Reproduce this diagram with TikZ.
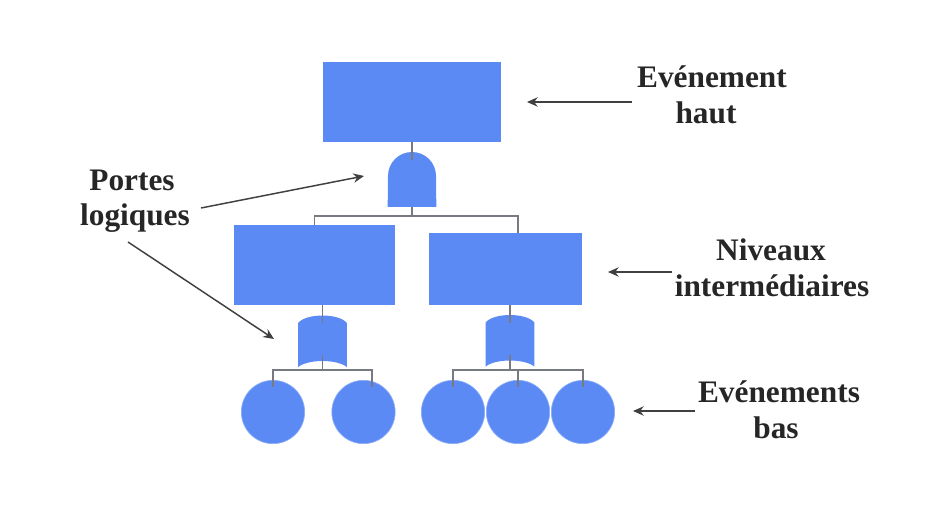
\documentclass[tikz,border=0pt]{standalone}
\usepackage{fontspec}
\setmainfont{Liberation Serif}
\usetikzlibrary{arrows.meta,calc}
\definecolor{blk}{HTML}{5B8AF5}
\definecolor{wire}{HTML}{777A80}
\tikzset{
  boxnode/.style={fill=blk,inner sep=0pt,outer sep=0pt},
  roundnode/.style={circle,fill=blk,draw=blk!70!white,line width=0.5pt,inner sep=0pt,outer sep=0pt,minimum size=47.5pt},
  gatenode/.style={inner sep=0pt,outer sep=0pt,minimum width=36.5pt,minimum height=39pt},
  wireline/.style={draw=wire,line width=1.1pt},
  pointer/.style={draw=black!75,line width=1.1pt,-{Stealth[length=8pt,width=7pt]}},
  lbl/.style={font=\bfseries\fontsize{23.5}{28}\selectfont,text=black!85,inner sep=0pt}
}
\begin{document}
\begin{tikzpicture}[x=0.75pt,y=-0.75pt]
\useasboundingbox (0,0) rectangle (946,506);
% boxes
\node[boxnode,minimum width=133.5pt,minimum height=60pt] (top) at (412,102) {};
\node[boxnode,minimum width=120.75pt,minimum height=60pt] (midL) at (314.5,265) {};
\node[boxnode,minimum width=114.75pt,minimum height=54pt] (midR) at (505.5,269) {};
% gates
\node[gatenode,minimum height=41.25pt] (andg) at (412,179.5) {};
\node[gatenode] (orL) at (322.5,341) {};
\node[gatenode] (orR) at (510,340.5) {};
\fill[blk] (andg.south west) -- (388,176) arc[start angle=180,end angle=360,radius=24] -- (andg.south east) -- cycle;
\foreach \g in {orL,orR}{
  \fill[blk] (\g.south west) -- ($(\g.north west)+(0,8)$)
    .. controls ($(\g.north west)+(8,-2)$) and ($(\g.north east)+(-8,-2)$) .. ($(\g.north east)+(0,8)$)
    -- (\g.south east)
    .. controls ($(\g.south east)+(-10,-8)$) and ($(\g.south west)+(10,-8)$) .. (\g.south west) -- cycle;
}
% basic events
\node[roundnode] (e1) at (273,412) {};
\node[roundnode] (e2) at (363.5,412) {};
\node[roundnode] (e3) at (453,412) {};
\node[roundnode] (e4) at (518,412) {};
\node[roundnode] (e5) at (583,412) {};
% bus points
\coordinate (b0) at (412,216);
\coordinate (b1) at (322.5,370);
\coordinate (b2) at (510,370);
\coordinate (tR) at (518,233);
\coordinate (t2) at (372,387);
\coordinate (jL) at (322.5,305);
\coordinate (jR) at (510,305);
% wires
\draw[wireline] (top.south) -- ($(andg.north)+(0,8)$);
\draw[wireline] (andg.south) -- (b0);
\draw[wireline] (b0) -| (midL.north);
\draw[wireline] (b0) -| (tR);
\draw[wireline] (jL) -- ($(orL.north)+(0,8)$);
\draw[wireline] (jR) -- ($(orR.north)+(0,8)$);
\draw[wireline] ($(orL.south)+(0,-12)$) -- (b1);
\draw[wireline] ($(orR.south)+(0,-12)$) -- (b2);
\draw[wireline] (b1) -| ($(e1.north)+(0,7)$);
\draw[wireline] (b1) -| (t2);
\draw[wireline] (b2) -| ($(e3.north)+(0,7)$);
\draw[wireline] (b2) -| ($(e4.north)+(0,7)$);
\draw[wireline] (b2) -| ($(e5.north)+(0,7)$);
% labels
\node[lbl] (l1) at (712,77) {Evénement};
\node[lbl] (l2) at (706,113) {haut};
\node[lbl] (l3) at (132,180) {Portes};
\node[lbl] (l4) at (135,218) {logiques};
\node[lbl] (l5) at (771,250) {Niveaux};
\node[lbl] (l6) at (772,286) {intermédiaires};
\node[lbl] (l7) at (779,392) {Evénements};
\node[lbl] (l8) at (776,428) {bas};
% pointers
\coordinate (p1s) at (632,102); \coordinate (p1e) at (527,102);
\coordinate (p2s) at (201,208); \coordinate (p2e) at (364,176);
\coordinate (p3s) at (128,242); \coordinate (p3e) at (274,339);
\coordinate (p4s) at (672,272); \coordinate (p4e) at (608,272);
\coordinate (p5s) at (695,411); \coordinate (p5e) at (633,411);
\draw[pointer] (p1s) -- (p1e);
\draw[pointer] (p2s) -- (p2e);
\draw[pointer] (p3s) -- (p3e);
\draw[pointer] (p4s) -- (p4e);
\draw[pointer] (p5s) -- (p5e);
\end{tikzpicture}
\end{document}
